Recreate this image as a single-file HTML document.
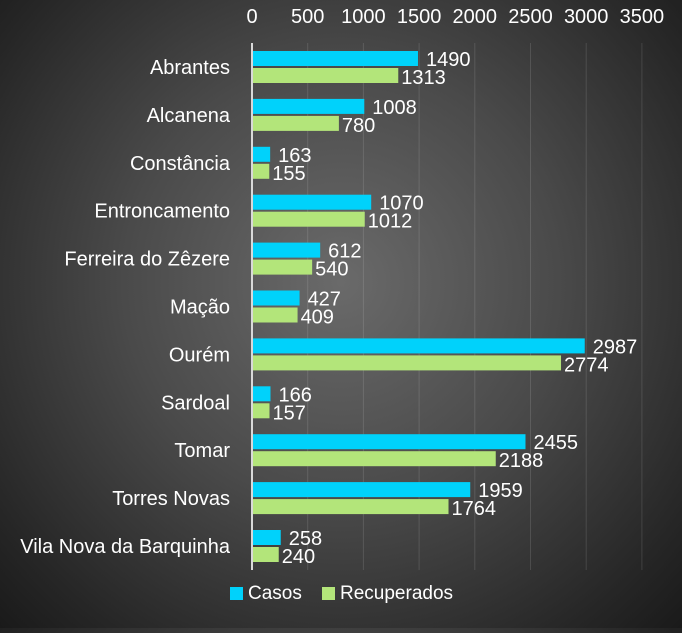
<!DOCTYPE html>
<html><head><meta charset="utf-8"><style>
html,body{margin:0;padding:0;}
body{width:682px;height:628px;overflow:hidden;background:radial-gradient(ellipse at 50% 45%,#6a6a6a 0%,#4a4a4a 45%,#262626 85%,#1a1a1a 100%);font-family:"Liberation Sans",sans-serif;}
svg text{font-family:"Liberation Sans",sans-serif;fill:#fff;}
</style></head><body>
<svg id="chart" width="682" height="628"></svg>
<script>
const categories=["Abrantes","Alcanena","Constância","Entroncamento","Ferreira do Zêzere","Mação","Ourém","Sardoal","Tomar","Torres Novas","Vila Nova da Barquinha"];
const casos=[1490,1008,163,1070,612,427,2987,166,2455,1959,258];
const recuperados=[1313,780,155,1012,540,409,2774,157,2188,1764,240];
const ticks=[0,500,1000,1500,2000,2500,3000,3500];
const NS="http://www.w3.org/2000/svg";
const svg=document.getElementById('chart');
const x0=252,k=0.1114,rowTop=43,rowH=47.9;
const xs=v=>x0+v*k;
function mk(t,a,p){const e=document.createElementNS(NS,t);for(const n in a)e.setAttribute(n,a[n]);(p||svg).appendChild(e);return e;}
ticks.forEach(t=>{
  if(t>0){const g=mk('line',{x1:xs(t),x2:xs(t),y1:43,y2:570,stroke:'#ffffff',"stroke-opacity":0.12,"stroke-width":1});
  
  }
  const tx=mk('text',{x:xs(t),y:23,"text-anchor":"middle","font-size":20});
  tx.textContent=t;
  
  
});
const ax=mk('line',{x1:x0,x2:x0,y1:43,y2:570,stroke:'#d9d9d9',"stroke-width":2});


categories.forEach((c,i)=>{
  const top=rowTop+i*rowH+8;
  const lb=mk('text',{x:230,y:top+23,"text-anchor":"end","font-size":20});
  lb.textContent=c;
  
  
  const b1=mk('rect',{x:x0+1,y:top,width:xs(casos[i])-x0-1,height:15,fill:'#00d2fb'});
  
  
  const b2=mk('rect',{x:x0+1,y:top+17,width:xs(recuperados[i])-x0-1,height:15,fill:'#b3e57a'});
  
  
  const v1=mk('text',{x:xs(casos[i])+8,y:top+15,"font-size":20});
  v1.textContent=casos[i];
  
  
  const v2=mk('text',{x:xs(recuperados[i])+3,y:top+33,"font-size":20});
  v2.textContent=recuperados[i];
  
  
});
</script>
<div style="position:absolute;left:0;top:0;">
  <div style="position:absolute;left:230px;top:583px;color:#fff;font-size:19px;white-space:nowrap;"><span style="display:inline-block;width:13px;height:13px;background:#00d2fb;margin-right:5px;vertical-align:-1px;"></span>Casos</div>
  <div style="position:absolute;left:322px;top:583px;color:#fff;font-size:19px;white-space:nowrap;"><span style="display:inline-block;width:13px;height:13px;background:#b3e57a;margin-right:5px;vertical-align:-1px;"></span>Recuperados</div>
</div>
</body></html>
